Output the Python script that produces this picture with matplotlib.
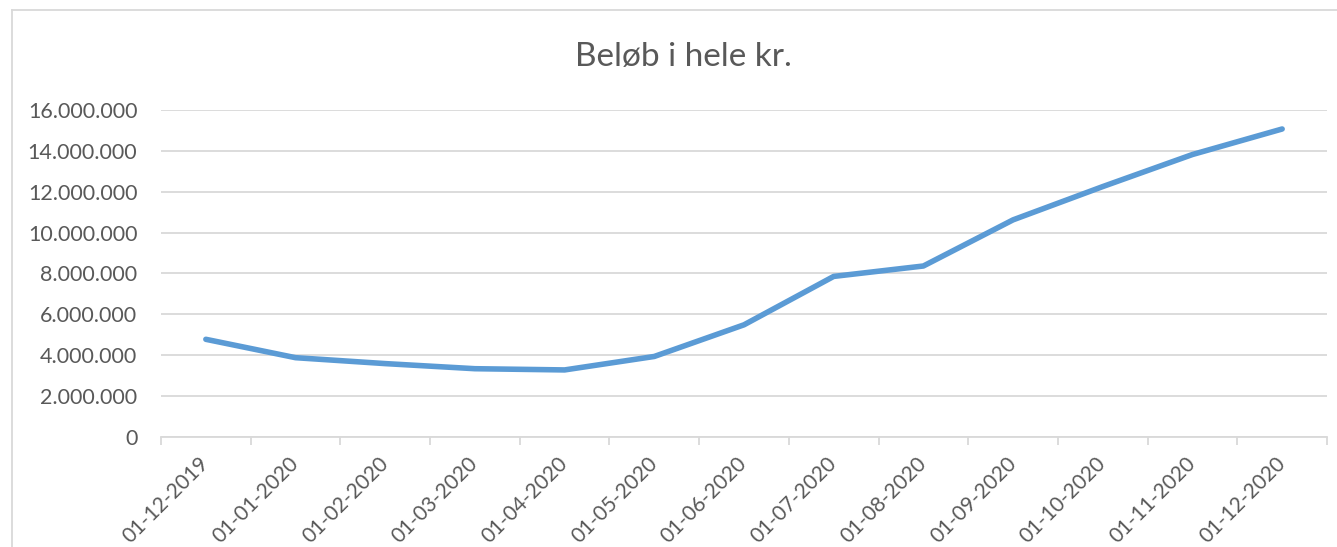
import matplotlib
matplotlib.use('Agg')
import matplotlib.pyplot as plt
from matplotlib.lines import Line2D
from matplotlib.ticker import FuncFormatter, FixedLocator

## data
dates = ['01-12-2019', '01-01-2020', '01-02-2020', '01-03-2020', '01-04-2020',
         '01-05-2020', '01-06-2020', '01-07-2020', '01-08-2020', '01-09-2020',
         '01-10-2020', '01-11-2020', '01-12-2020']
amounts = [4770000, 3870000, 3580000, 3330000, 3270000, 3930000, 5480000,
           7850000, 8360000, 10620000, 12250000, 13820000, 15070000]
yticks = [0, 2000000, 4000000, 6000000, 8000000, 10000000, 12000000,
          14000000, 16000000]
title = 'Beløb i hele kr.'

W, H = 1337, 547
textc = '#595959'
gridc = '#d9d9d9'
plt.rcParams['font.family'] = ['Lato', 'DejaVu Sans']

fig = plt.figure(figsize=(W / 100, H / 100), dpi=100)
ax = fig.add_axes([161 / W, 1 - 436.7 / H, (1327 - 161) / W, (436.7 - 110) / H])

x = [i + 0.5 for i in range(len(dates))]
ax.plot(x, amounts, color='#5b9bd5', lw=4, solid_capstyle='round',
        solid_joinstyle='round', zorder=3)

ax.set_xlim(0, len(dates))
ax.set_ylim(0, yticks[-1])
ax.set_yticks(yticks)
ax.yaxis.set_major_formatter(FuncFormatter(lambda v, p: '{:,.0f}'.format(v).replace(',', '.')))
ax.grid(axis='y', color=gridc, lw=1.3)
ax.set_axisbelow(True)

ax.set_xticks(x)
ax.set_xticklabels(dates, rotation=45, ha='right', va='center', rotation_mode='anchor')
ax.xaxis.set_minor_locator(FixedLocator(range(len(dates) + 1)))
ax.tick_params(axis='x', which='major', length=0, pad=17, labelsize=15, labelcolor=textc)
ax.tick_params(axis='x', which='minor', length=5.5, width=1.3, color=gridc)
ax.tick_params(axis='y', length=0, pad=17, labelsize=15.5, labelcolor=textc)

for s in ['top', 'right', 'left']:
    ax.spines[s].set_visible(False)
ax.spines['bottom'].set_color(gridc)
ax.spines['bottom'].set_linewidth(1.3)

fig.text(683 / W, 1 - 57 / H, title, ha='center', va='center', fontsize=24, color=textc)

## outer chart border (only left and top edge visible)
fig.add_artist(Line2D([12 / W, 12 / W], [0, 1 - 10 / H], color=gridc, lw=1.3))
fig.add_artist(Line2D([12 / W, 1], [1 - 10 / H, 1 - 10 / H], color=gridc, lw=1.3))

fig.savefig('out.png', dpi=100)
